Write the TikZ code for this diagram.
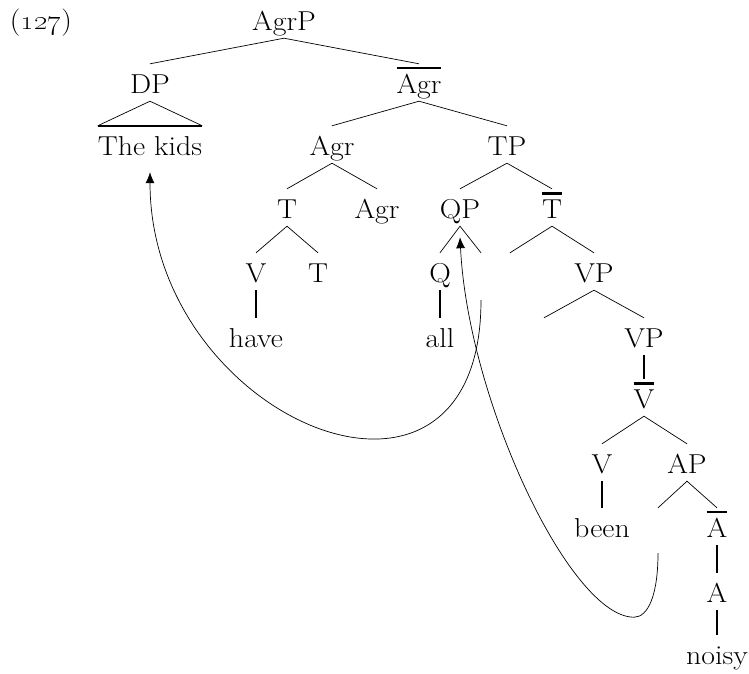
\documentclass[tikz,border=0pt]{standalone}
\usepackage{graphicx}
\usetikzlibrary{arrows.meta}
\newcommand\xbar[1]{\vbox{\hrule height 2.2pt\kern 4.1pt\hbox{#1}}}
\newcommand\tx[1]{\scalebox{1.2}[1.1]{#1}}
\begin{document}
\begin{tikzpicture}[x=1pt,y=-1pt,
  tn/.style={inner sep=0pt, text height=29pt, text depth=8pt, anchor=base, font=\fontsize{24.88}{30}\selectfont},
  br/.style={line width=0.7pt},
  un/.style={line width=1.6pt},
  mv/.style={line width=0.7pt, -{Latex[length=11pt,width=9pt]}}]
\useasboundingbox (0,0) rectangle (749,673);
\node[tn] (ex) at (41,29) {\tx{(\oldstylenums{127})}};
\node[tn] (agrp) at (284,30) {\tx{AgrP}};
\node[tn] (dp) at (150,93) {\tx{DP}};
\node[tn] (agrb) at (419,93) {\tx{\xbar{Agr}}};
\node[tn] (kids) at (150,155) {\tx{The kids}};
\node[tn] (agr) at (332,155) {\tx{Agr}};
\node[tn] (tp) at (507,155) {\tx{TP}};
\node[tn] (t) at (287,218) {\tx{T}};
\node[tn] (agr2) at (377,218) {\tx{Agr}};
\node[tn] (qp) at (460,218) {\tx{QP}};
\node[tn] (tb) at (552,218) {\tx{\xbar{T}}};
\node[tn] (v) at (256,282) {\tx{V}};
\node[tn] (t2) at (318,282) {\tx{T}};
\node[tn] (q) at (440,282) {\tx{Q}};
\node[tn] (e1) at (481,282) {};
\node[tn] (e2) at (510,282) {};
\node[tn] (vp) at (594,282) {\tx{VP}};
\node[tn] (have) at (256,347) {\tx{have}};
\node[tn] (all) at (440,347) {\tx{all}};
\node[tn] (e3) at (544,347) {};
\node[tn] (vp2) at (644,347) {\tx{VP}};
\node[tn] (vb) at (644,408) {\tx{\xbar{V}}};
\node[tn] (v2) at (602,473) {\tx{V}};
\node[tn] (ap) at (687,473) {\tx{AP}};
\node[tn] (been) at (602,537) {\tx{been}};
\node[tn] (e4) at (658,537) {};
\node[tn] (ab) at (717,537) {\tx{\xbar{A}}};
\node[tn] (a) at (717,602) {\tx{A}};
\node[tn] (noisy) at (717,664) {\tx{noisy}};
% branches
\draw[br] (dp.north) -- (agrp.south) -- (agrb.north);
\draw[br] (agr.north) -- (agrb.south) -- (tp.north);
\draw[br] (t.north) -- (agr.south) -- (agr2.north);
\draw[br] (qp.north) -- (tp.south) -- (tb.north);
\draw[br] (v.north) -- (t.south) -- (t2.north);
\draw[br] (q.north) -- (qp.south) -- (e1.north);
\draw[br] (e2.north) -- (tb.south) -- (vp.north);
\draw[br] (e3.north) -- (vp.south) -- (vp2.north);
\draw[br] (v2.north) -- (vb.south) -- (ap.north);
\draw[br] (e4.north) -- (ap.south) -- (ab.north);
% unary
\draw[un] (v.south) -- (have.north);
\draw[un] (q.south) -- (all.north);
\draw[un] (vp2.south) -- (vb.north);
\draw[un] (v2.south) -- (been.north);
\draw[un] (ab.south) -- (a.north);
\draw[un] (a.south) -- (noisy.north);
% triangle
\draw[br] (kids.north west) -- (dp.south) -- (kids.north east);
\draw[un] (kids.north west) -- (kids.north east);
% movement arrows
\coordinate (s1) at ([yshift=-10pt]e1.south);
\coordinate (k1) at ([yshift=-9pt]kids.south);
\draw[mv] (s1) .. controls +(0,258) and +(0,248) .. (k1);
\coordinate (s2) at ([yshift=-8pt]e4.south);
\coordinate (q2) at ([yshift=-11pt]qp.south);
\path (s2) ++(-24,64) coordinate (b2);
\draw[mv] (s2) .. controls +(0,42) and +(14,0) .. (b2) .. controls +(-64,0) and +(8,163) .. (q2);
\end{tikzpicture}
\end{document}
